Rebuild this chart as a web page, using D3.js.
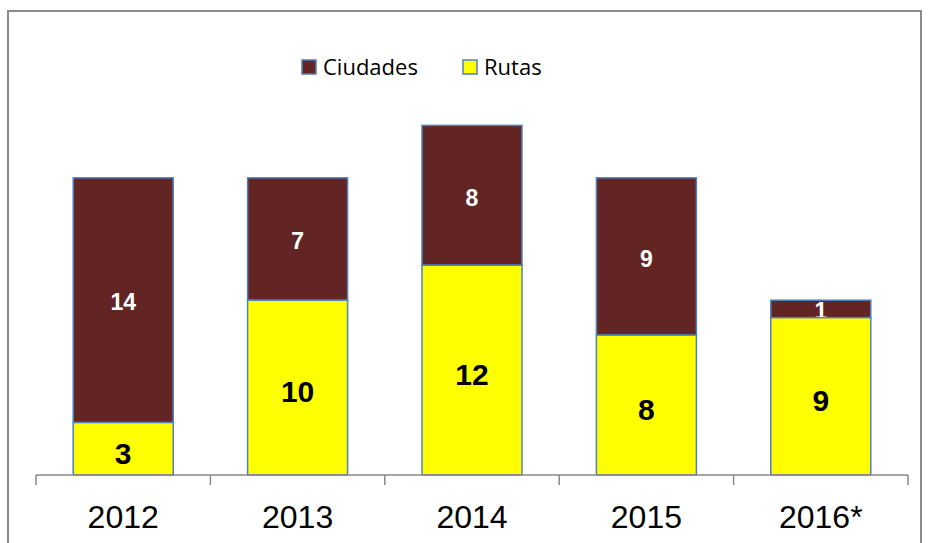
<!DOCTYPE html>
<html>
<head>
<meta charset="utf-8">
<script src="https://cdn.jsdelivr.net/npm/d3@7"></script>
<style>
  body { margin: 0; background: #fff; }
  svg { display: block; }
</style>
</head>
<body>
<div id="chart"></div>
<script>
// chart data
const years = ["2012", "2013", "2014", "2015", "2016*"];
const rutas = [3, 10, 12, 8, 9];
const ciudades = [14, 7, 8, 9, 1];
const seriesNames = ["Ciudades", "Rutas"];

const width = 934, height = 543;
const colors = { Ciudades: "#632523", Rutas: "#ffff00" };

const svg = d3.select("#chart").append("svg")
    .attr("width", width)
    .attr("height", height);

// outer frame (bottom edge runs off the page)
svg.append("rect")
    .attr("x", 8).attr("y", 11)
    .attr("width", 913).attr("height", 560)
    .attr("fill", "none")
    .attr("stroke", "#8a8a8a")
    .attr("stroke-width", 2);

const x = d3.scaleBand()
    .domain(years)
    .range([36, 908])
    .paddingInner(0)
    .paddingOuter(0);

const y = d3.scaleLinear()
    .domain([0, 25])
    .range([475, 38]);

const barW = 100;

const rows = years.map((yr, i) => ({ year: yr, rutas: rutas[i], ciudades: ciudades[i] }));

// ciudades sits on top of rutas
const gC = svg.append("g");
gC.selectAll("rect")
    .data(rows)
    .enter().append("rect")
    .attr("x", d => x(d.year) + x.bandwidth() / 2 - barW / 2)
    .attr("y", d => y(d.rutas + d.ciudades))
    .attr("width", barW)
    .attr("height", d => y(d.rutas) - y(d.rutas + d.ciudades))
    .attr("fill", colors.Ciudades)
    .attr("stroke", "#4f81bd")
    .attr("stroke-width", 1.5);

gC.selectAll("text")
    .data(rows)
    .enter().append("text")
    .attr("x", d => x(d.year) + x.bandwidth() / 2)
    .attr("y", d => (y(d.rutas) + y(d.rutas + d.ciudades)) / 2 + 2)
    .attr("dy", "0.36em")
    .attr("text-anchor", "middle")
    .attr("font-family", "Liberation Sans, Arial, sans-serif")
    .attr("font-weight", "bold")
    .attr("font-size", 23)
    .attr("fill", "#fff")
    .text(d => d.ciudades);

const gR = svg.append("g");
gR.selectAll("rect")
    .data(rows)
    .enter().append("rect")
    .attr("x", d => x(d.year) + x.bandwidth() / 2 - barW / 2)
    .attr("y", d => y(d.rutas))
    .attr("width", barW)
    .attr("height", d => y(0) - y(d.rutas))
    .attr("fill", colors.Rutas)
    .attr("stroke", "#4f81bd")
    .attr("stroke-width", 1.5);

gR.selectAll("text")
    .data(rows)
    .enter().append("text")
    .attr("x", d => x(d.year) + x.bandwidth() / 2)
    .attr("y", d => (y(0) + y(d.rutas)) / 2 + 4)
    .attr("dy", "0.36em")
    .attr("text-anchor", "middle")
    .attr("font-family", "Liberation Sans, Arial, sans-serif")
    .attr("font-weight", "bold")
    .attr("font-size", 30)
    .attr("fill", "#000")
    .text(d => d.rutas);

// category axis with ticks between groups
const axisG = svg.append("g").attr("transform", "translate(0,475)");
axisG.append("line")
    .attr("x1", 36).attr("x2", 908)
    .attr("stroke", "#8a8a8a").attr("stroke-width", 1.5);
const tickPos = years.map(d => x(d)).concat([x.range()[1]]);
axisG.selectAll(".tick")
    .data(tickPos)
    .enter().append("line")
    .attr("class", "tick")
    .attr("x1", d => d).attr("x2", d => d)
    .attr("y1", 0).attr("y2", 10)
    .attr("stroke", "#8a8a8a").attr("stroke-width", 1.5);
axisG.selectAll(".lbl")
    .data(years)
    .enter().append("text")
    .attr("class", "lbl")
    .attr("x", d => x(d) + x.bandwidth() / 2)
    .attr("y", 53)
    .attr("text-anchor", "middle")
    .attr("font-family", "Liberation Sans, Arial, sans-serif")
    .attr("font-size", 32)
    .attr("fill", "#000")
    .text(d => d);

// legend
const legendX = [301, 462];
const legend = svg.append("g");
const li = legend.selectAll("g")
    .data(seriesNames)
    .enter().append("g")
    .attr("transform", (d, i) => `translate(${legendX[i]},59)`);
li.append("rect")
    .attr("x", 1).attr("y", 1)
    .attr("width", 14).attr("height", 14)
    .attr("fill", d => colors[d])
    .attr("stroke", "#4f81bd")
    .attr("stroke-width", 1.5);
li.append("text")
    .attr("x", 22)
    .attr("y", 15.5)
    .attr("font-family", "Open Sans, sans-serif")
    .attr("font-size", 22)
    .attr("fill", "#000")
    .text(d => d);
</script>
</body>
</html>
